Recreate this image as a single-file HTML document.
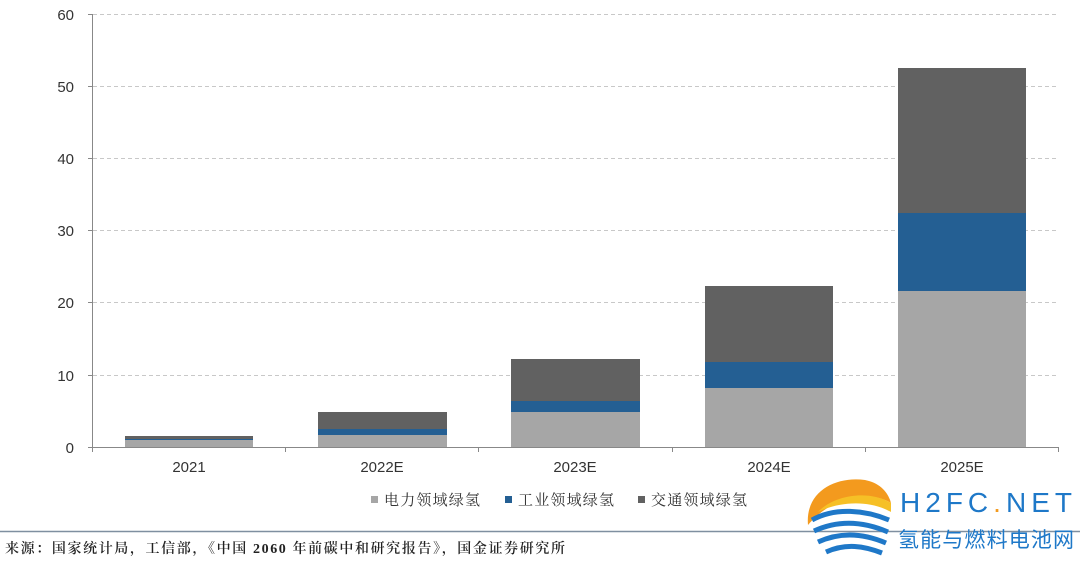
<!DOCTYPE html>
<html><head><meta charset="utf-8"><style>
body{margin:0;background:#fff;width:1080px;height:558px;overflow:hidden}
text{font-family:"Liberation Sans","Noto Sans CJK SC",sans-serif}
.cn{font-family:"Liberation Serif","Noto Serif CJK SC",serif}
</style></head><body>
<svg width="1080" height="558" xmlns="http://www.w3.org/2000/svg">
<g stroke="#c8c8c8" stroke-dasharray="4,3" stroke-width="1">
<line x1="93" x2="1058" y1="14.5" y2="14.5"/>
<line x1="93" x2="1058" y1="86.5" y2="86.5"/>
<line x1="93" x2="1058" y1="158.5" y2="158.5"/>
<line x1="93" x2="1058" y1="230.5" y2="230.5"/>
<line x1="93" x2="1058" y1="302.5" y2="302.5"/>
<line x1="93" x2="1058" y1="375.5" y2="375.5"/>
</g>
<g font-size="15" fill="#333" text-anchor="end">
<text x="74" y="20">60</text><text x="74" y="92">50</text><text x="74" y="164">40</text>
<text x="74" y="236">30</text><text x="74" y="308">20</text><text x="74" y="381">10</text><text x="74" y="453">0</text>
</g>
<rect x="125" y="440" width="128" height="7" fill="#a6a6a6"/>
<rect x="125" y="439" width="128" height="1" fill="#245f93"/>
<rect x="125" y="436" width="128" height="3" fill="#616161"/>

<rect x="318" y="435" width="129" height="12" fill="#a6a6a6"/>
<rect x="318" y="429" width="129" height="6" fill="#245f93"/>
<rect x="318" y="412" width="129" height="17" fill="#616161"/>

<rect x="511" y="412" width="129" height="35" fill="#a6a6a6"/>
<rect x="511" y="401" width="129" height="11" fill="#245f93"/>
<rect x="511" y="359" width="129" height="42" fill="#616161"/>

<rect x="705" y="388" width="128" height="59" fill="#a6a6a6"/>
<rect x="705" y="362" width="128" height="26" fill="#245f93"/>
<rect x="705" y="286" width="128" height="76" fill="#616161"/>

<rect x="898" y="291" width="128" height="156" fill="#a6a6a6"/>
<rect x="898" y="213" width="128" height="78" fill="#245f93"/>
<rect x="898" y="68" width="128" height="145" fill="#616161"/>

<g stroke="#888" stroke-width="1">
<line x1="92.5" y1="14" x2="92.5" y2="452"/>
<line x1="88" y1="447.5" x2="1058" y2="447.5"/>
<line x1="88" y1="14.5" x2="93" y2="14.5"/><line x1="88" y1="86.5" x2="93" y2="86.5"/>
<line x1="88" y1="158.5" x2="93" y2="158.5"/><line x1="88" y1="230.5" x2="93" y2="230.5"/>
<line x1="88" y1="302.5" x2="93" y2="302.5"/><line x1="88" y1="375.5" x2="93" y2="375.5"/>
<line x1="285.5" y1="447" x2="285.5" y2="452"/><line x1="478.5" y1="447" x2="478.5" y2="452"/>
<line x1="672.5" y1="447" x2="672.5" y2="452"/><line x1="865.5" y1="447" x2="865.5" y2="452"/>
<line x1="1058.5" y1="447" x2="1058.5" y2="452"/>
</g>
<g font-size="15" fill="#333" text-anchor="middle">
<text x="189" y="472">2021</text><text x="382" y="472">2022E</text><text x="575" y="472">2023E</text>
<text x="769" y="472">2024E</text><text x="962" y="472">2025E</text>
</g>
<g font-size="15" fill="#333">
<rect x="371" y="496" width="7" height="7" fill="#a6a6a6"/><text class="cn" x="384" y="505" textLength="96">电力领域绿氢</text>
<rect x="505" y="496" width="7" height="7" fill="#245f93"/><text class="cn" x="518" y="505" textLength="96">工业领域绿氢</text>
<rect x="638" y="496" width="7" height="7" fill="#616161"/><text class="cn" x="651" y="505" textLength="96">交通领域绿氢</text>
</g>
<line x1="0" y1="531.5" x2="1080" y2="531.5" stroke="#7f8fa0" stroke-width="1.5"/>
<text class="cn" x="5" y="553" font-size="14" font-weight="600" fill="#222" textLength="560">来源：国家统计局，工信部，《中国 2060 年前碳中和研究报告》，国金证券研究所</text>
<path d="M808,525 C805,492 835,476 865,480 C880,483 888,492 891,503 C870,490 832,496 808,525Z" fill="#f39a1e"/>
<path d="M818,512 C835,494 870,490 891,503 L891,512 C868,499 838,502 818,512Z" fill="#f6c026"/>
<g fill="none" stroke="#1f78c8" stroke-width="5">
<path d="M812,520 C835,507 865,510 889,520"/>
<path d="M814,531 C840,519 865,522 888,532"/>
<path d="M818,542 C842,531 865,534 886,543"/>
<path d="M826,552 C846,543 864,546 882,553"/>
</g>
<text x="900" y="512" font-size="28" fill="#1e78c8" textLength="172" lengthAdjust="spacing">H2FC<tspan fill="#f39a1e">.</tspan>NET</text>
<text x="898" y="547" font-size="21" fill="#1e78c8" textLength="176" font-family="'Noto Sans CJK SC',sans-serif">氢能与燃料电池网</text>
</svg>
</body></html>
